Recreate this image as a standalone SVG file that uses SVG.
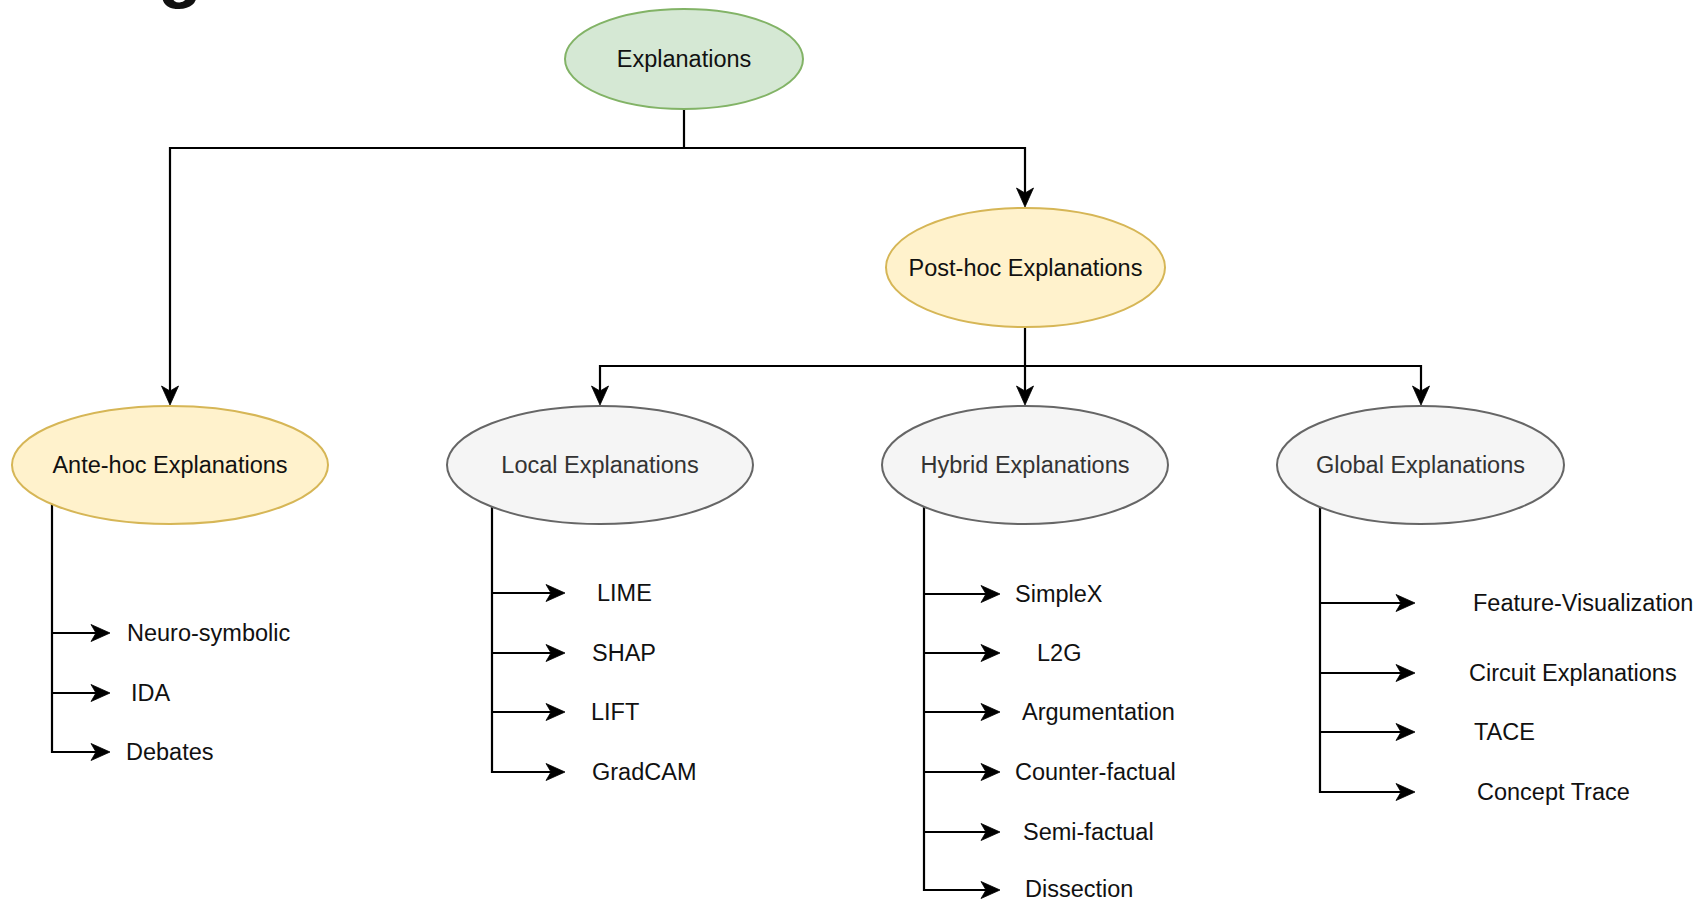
<svg xmlns="http://www.w3.org/2000/svg" width="1698" height="900" viewBox="0 0 1698 900">
  <defs>
    <marker id="arr" markerUnits="userSpaceOnUse" markerWidth="22" markerHeight="20" viewBox="-21 -10 22 20" refX="-12" refY="0" orient="auto">
      <path d="M0,0 L-19,-8.5 L-14,0 L-19,8.5 Z" fill="#000" stroke="#000" stroke-width="0.8" stroke-linejoin="miter"/>
    </marker>
  </defs>
  <style>
    .edge { fill: none; stroke: #000; stroke-width: 2.2; }
    .arr { marker-end: url(#arr); }
    .green { fill: #d5e8d4; stroke: #82b366; stroke-width: 2; }
    .yellow { fill: #fff2cc; stroke: #d6b656; stroke-width: 2; }
    .gray { fill: #f5f5f5; stroke: #666666; stroke-width: 2; }
    .lbl { font-family: "Liberation Sans", Arial, sans-serif; font-size: 23.5px; fill: #111; }
    .mid { text-anchor: middle; }
    .glbl { fill: #333333; }
    .title { font-family: "Liberation Sans", Arial, sans-serif; font-size: 72px; font-weight: bold; fill: #111; }
  </style>
  <rect width="1698" height="900" fill="#ffffff"/>
  <text class="title" x="158" y="-6">g</text>

  <g id="connectors">
    <path class="edge arr" d="M684,109 V148 H170 V393"/>
    <path class="edge arr" d="M684,148 H1025 V195"/>
    <path class="edge arr" d="M1025,327 V366 H600 V393"/>
    <path class="edge arr" d="M1025,366 V393"/>
    <path class="edge arr" d="M1025,366 H1421 V393"/>

    <path class="edge" d="M52,504 V633"/>
    <path class="edge arr" d="M52,633 H98"/>
    <path class="edge arr" d="M52,693 H98"/>
    <path class="edge arr" d="M52,633 V752 H98"/>

    <path class="edge arr" d="M492,593 H553"/>
    <path class="edge arr" d="M492,653 H553"/>
    <path class="edge arr" d="M492,712 H553"/>
    <path class="edge arr" d="M492,507 V772 H553"/>

    <path class="edge arr" d="M924,594 H988"/>
    <path class="edge arr" d="M924,653 H988"/>
    <path class="edge arr" d="M924,712 H988"/>
    <path class="edge arr" d="M924,772 H988"/>
    <path class="edge arr" d="M924,832 H988"/>
    <path class="edge arr" d="M924,507 V890 H988"/>

    <path class="edge arr" d="M1320,603 H1403"/>
    <path class="edge arr" d="M1320,673 H1403"/>
    <path class="edge arr" d="M1320,732 H1403"/>
    <path class="edge arr" d="M1320,507 V792 H1403"/>
  </g>

  <g id="explanations">
    <ellipse class="green" cx="684" cy="59" rx="119" ry="50"/>
    <text class="lbl mid" x="684" y="67">Explanations</text>
  </g>
  <g id="posthoc">
    <ellipse class="yellow" cx="1025.5" cy="267.5" rx="139.5" ry="59.5"/>
    <text class="lbl mid" x="1025.5" y="276">Post-hoc Explanations</text>
  </g>
  <g id="antehoc">
    <ellipse class="yellow" cx="170" cy="465" rx="158" ry="59"/>
    <text class="lbl mid" x="170" y="473">Ante-hoc Explanations</text>
  </g>
  <g id="local">
    <ellipse class="gray" cx="600" cy="465" rx="153" ry="59"/>
    <text class="lbl mid glbl" x="600" y="473">Local Explanations</text>
  </g>
  <g id="hybrid">
    <ellipse class="gray" cx="1025" cy="465" rx="143" ry="59"/>
    <text class="lbl mid glbl" x="1025" y="473">Hybrid Explanations</text>
  </g>
  <g id="global">
    <ellipse class="gray" cx="1420.5" cy="465" rx="143.5" ry="59"/>
    <text class="lbl mid glbl" x="1420.5" y="473">Global Explanations</text>
  </g>

  <g id="ante-leaves">
    <text class="lbl" x="127" y="641">Neuro-symbolic</text>
    <text class="lbl" x="131" y="701">IDA</text>
    <text class="lbl" x="126" y="760">Debates</text>
  </g>
  <g id="local-leaves">
    <text class="lbl" x="597" y="601">LIME</text>
    <text class="lbl" x="592" y="661">SHAP</text>
    <text class="lbl" x="591" y="720">LIFT</text>
    <text class="lbl" x="592" y="780">GradCAM</text>
  </g>
  <g id="hybrid-leaves">
    <text class="lbl" x="1015" y="602">SimpleX</text>
    <text class="lbl" x="1037" y="661">L2G</text>
    <text class="lbl" x="1022" y="720">Argumentation</text>
    <text class="lbl" x="1015" y="780">Counter-factual</text>
    <text class="lbl" x="1023" y="840">Semi-factual</text>
    <text class="lbl" x="1025" y="897">Dissection</text>
  </g>
  <g id="global-leaves">
    <text class="lbl" x="1473" y="611">Feature-Visualization</text>
    <text class="lbl" x="1469" y="681">Circuit Explanations</text>
    <text class="lbl" x="1474" y="740">TACE</text>
    <text class="lbl" x="1477" y="800">Concept Trace</text>
  </g>
</svg>
